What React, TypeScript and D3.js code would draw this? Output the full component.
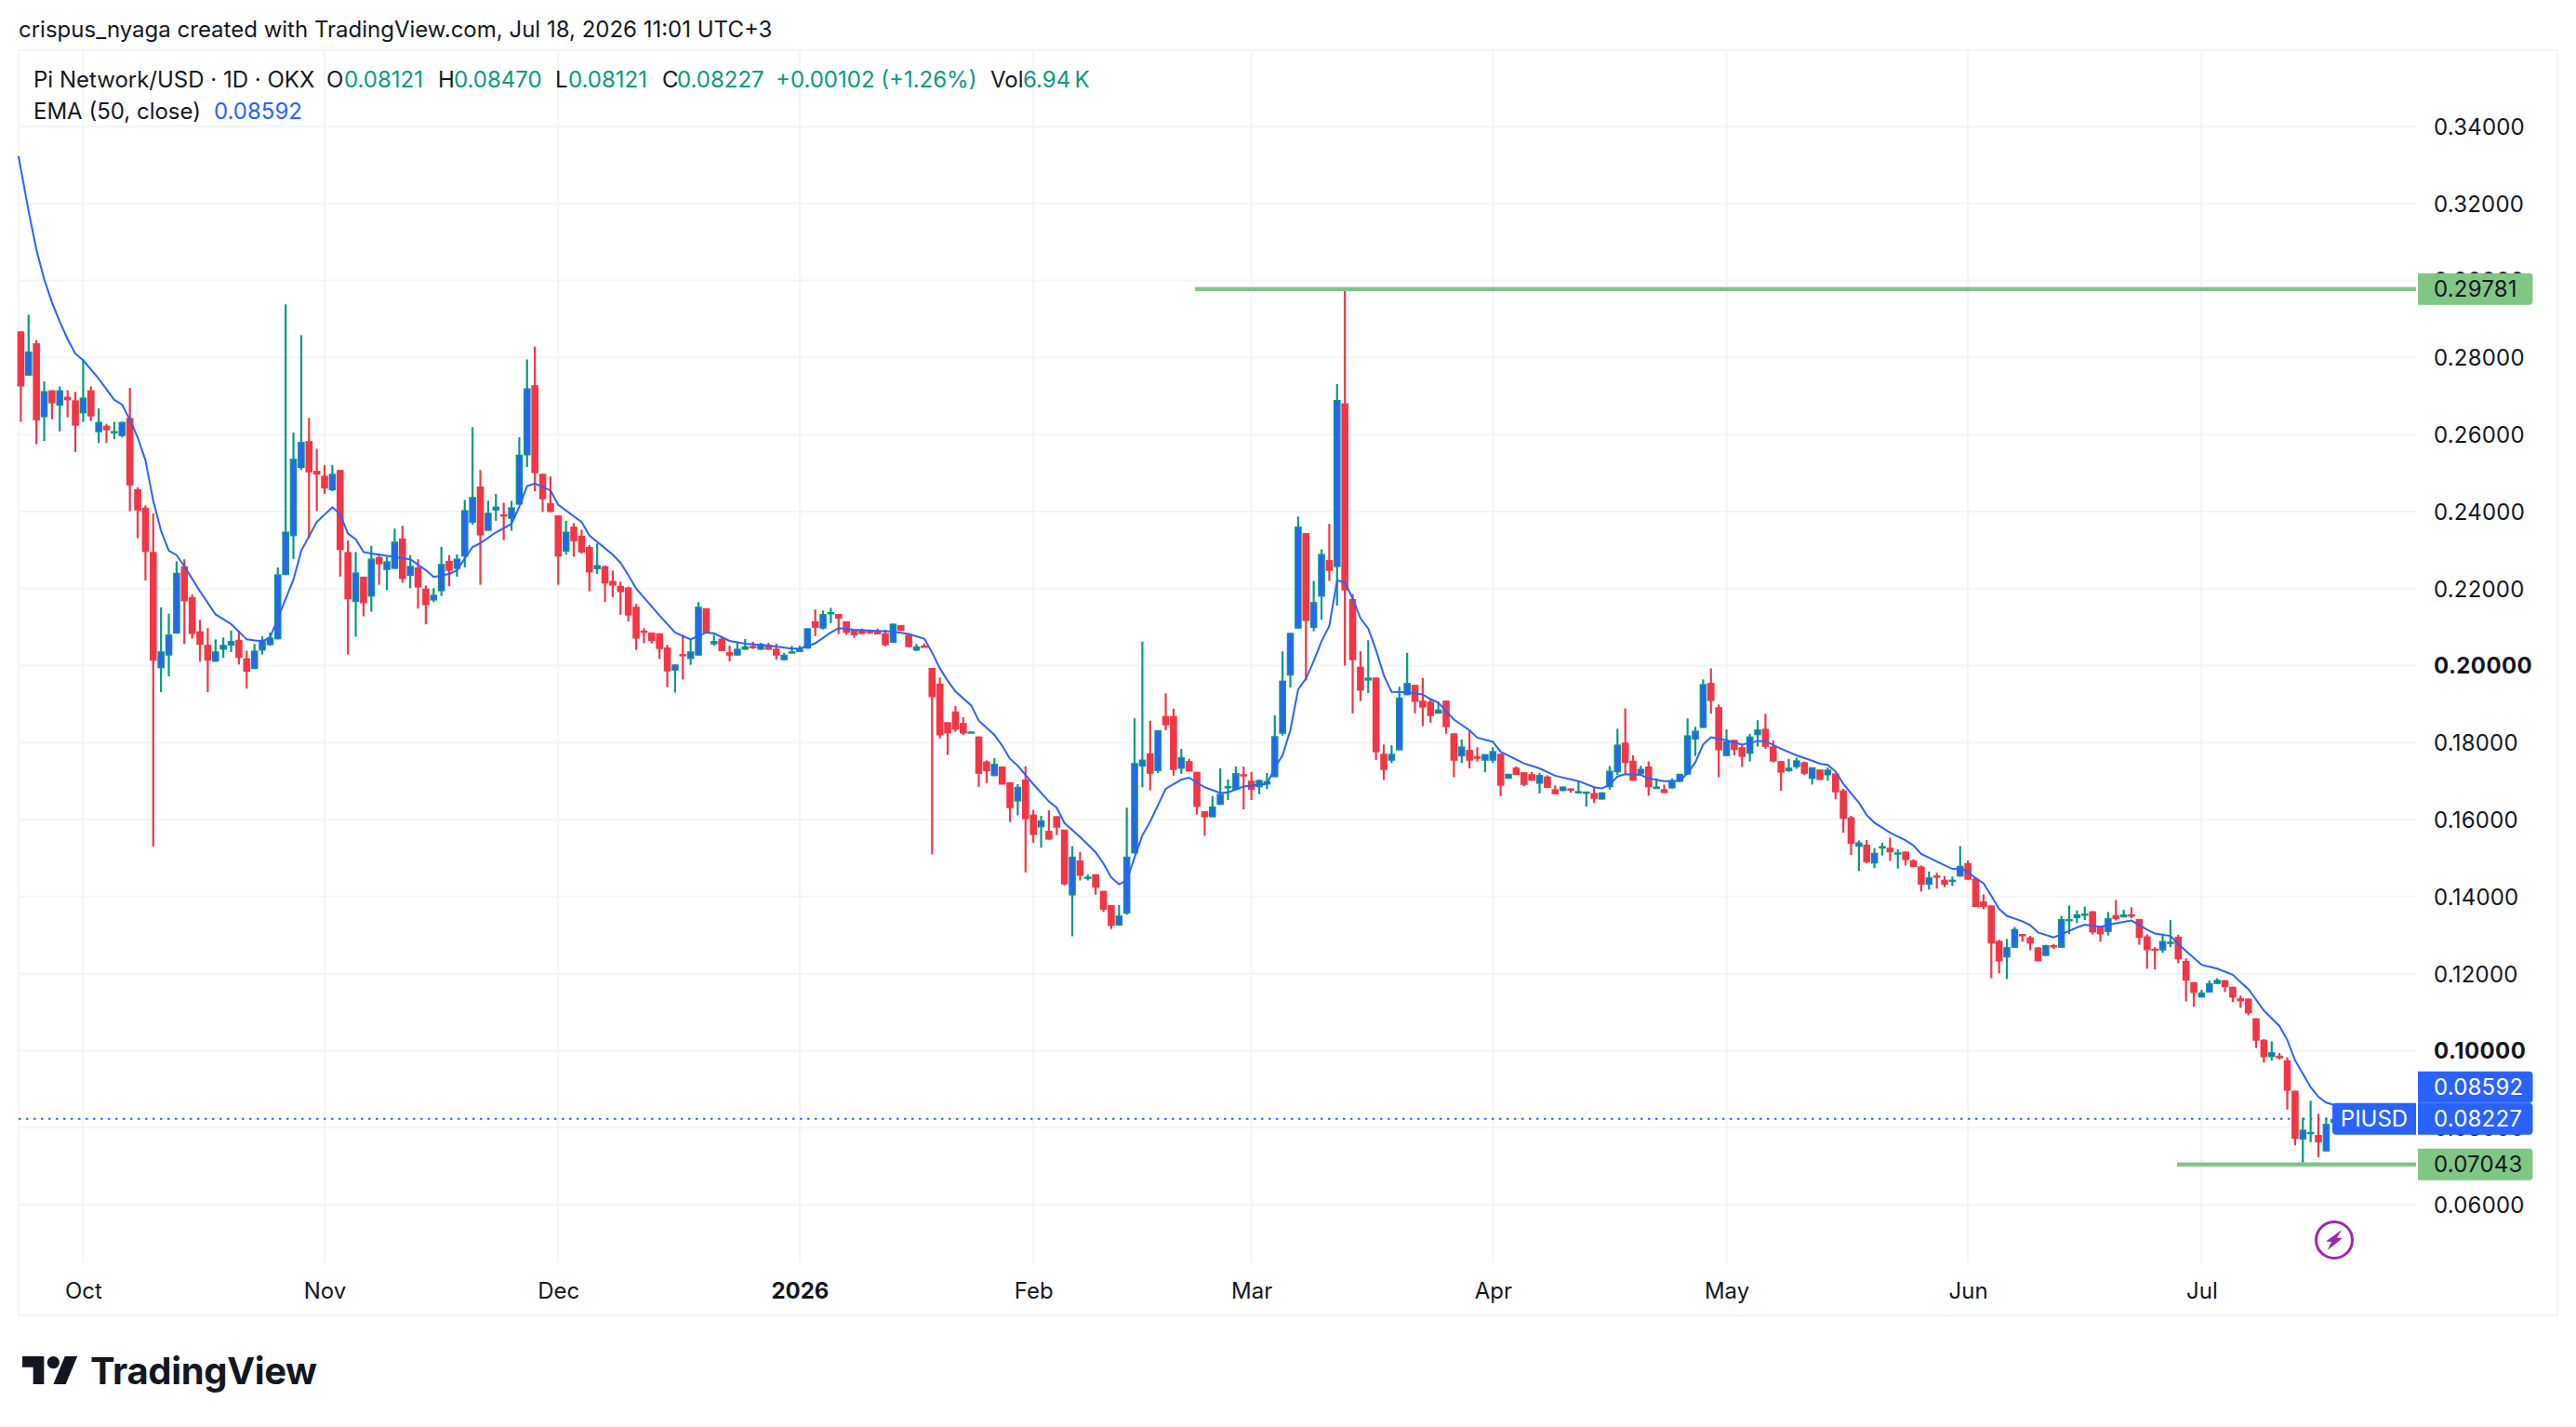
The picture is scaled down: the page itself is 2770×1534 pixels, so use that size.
import { useEffect, useRef } from "react";
import * as d3 from "d3";

const opens = [
  0.2868,0.2753,0.2837,0.2645,0.2715,0.2675,0.2698,0.2689,0.2655,0.2715,
  0.2606,0.2623,0.2606,0.2596,0.2643,0.2458,0.2410,0.2295,0.1993,0.2026,
  0.2083,0.2258,0.2178,0.2089,0.2054,0.2010,0.2041,0.2052,0.2067,0.2019,
  0.1991,0.2039,0.2053,0.2068,0.2235,0.2336,0.2513,0.2583,0.2506,0.2493,
  0.2455,0.2508,0.2295,0.2165,0.2231,0.2179,0.2282,0.2248,0.2251,0.2330,
  0.2233,0.2255,0.2200,0.2169,0.2193,0.2272,0.2251,0.2283,0.2371,0.2465,
  0.2350,0.2403,0.2393,0.2381,0.2418,0.2546,0.2728,0.2498,0.2422,0.2390,
  0.2296,0.2361,0.2337,0.2308,0.2250,0.2258,0.2220,0.2207,0.2203,0.2153,
  0.2091,0.2086,0.2084,0.2047,0.1987,0.2030,0.2017,0.2026,0.2149,0.2055,
  0.2070,0.2035,0.2026,0.2041,0.2051,0.2041,0.2054,0.2044,0.2014,0.2035,
  0.2035,0.2044,0.2115,0.2096,0.2134,0.2134,0.2115,0.2092,0.2092,0.2090,
  0.2090,0.2084,0.2059,0.2105,0.2080,0.2039,0.2052,0.1994,0.1953,0.1853,
  0.1881,0.1851,0.1827,0.1816,0.1751,0.1713,0.1738,0.1697,0.1647,0.1704,
  0.1613,0.1580,0.1571,0.1609,0.1574,0.1403,0.1494,0.1449,0.1458,0.1415,
  0.1378,0.1325,0.1356,0.1512,0.1738,0.1772,0.1726,0.1869,0.1869,0.1732,
  0.1752,0.1724,0.1622,0.1606,0.1638,0.1684,0.1677,0.1718,0.1701,0.1684,
  0.1691,0.1710,0.1823,0.1974,0.2096,0.2344,0.2098,0.2179,0.2274,0.2256,
  0.2681,0.2173,0.1997,0.1961,0.1969,0.1771,0.1753,0.1780,0.1923,0.1950,
  0.1909,0.1906,0.1875,0.1909,0.1824,0.1764,0.1781,0.1764,0.1753,0.1753,
  0.1771,0.1706,0.1735,0.1723,0.1718,0.1693,0.1712,0.1679,0.1674,0.1681,
  0.1671,0.1670,0.1669,0.1652,0.1684,0.1723,0.1800,0.1753,0.1718,0.1738,
  0.1683,0.1679,0.1681,0.1698,0.1717,0.1808,0.1838,0.1955,0.1892,0.1765,
  0.1807,0.1788,0.1771,0.1819,0.1836,0.1790,0.1752,0.1726,0.1736,0.1749,
  0.1706,0.1730,0.1715,0.1720,0.1676,0.1606,0.1530,0.1535,0.1486,0.1529,
  0.1527,0.1511,0.1517,0.1494,0.1478,0.1431,0.1455,0.1444,0.1442,0.1452,
  0.1487,0.1447,0.1388,0.1377,0.1285,0.1242,0.1267,0.1303,0.1294,0.1268,
  0.1246,0.1274,0.1267,0.1340,0.1344,0.1350,0.1362,0.1322,0.1308,0.1352,
  0.1346,0.1354,0.1342,0.1297,0.1265,0.1260,0.1281,0.1296,0.1233,0.1178,
  0.1138,0.1151,0.1173,0.1183,0.1166,0.1136,0.1135,0.1084,0.1028,0.0983,
  0.0987,0.0975,0.0896,0.0769,0.0785,0.0781,0.0738,0.08121,
];

const highs = [
  0.2868,0.2911,0.2845,0.2738,0.2715,0.2725,0.2715,0.2711,0.2795,0.2725,
  0.2668,0.2628,0.2633,0.2633,0.2721,0.2463,0.2416,0.2395,0.2151,0.2135,
  0.2271,0.2276,0.2185,0.2119,0.2097,0.2068,0.2073,0.2091,0.2091,0.2039,
  0.2056,0.2076,0.2086,0.2255,0.2938,0.2605,0.2858,0.2643,0.2563,0.2521,
  0.2521,0.2508,0.2325,0.2295,0.2231,0.2311,0.2291,0.2283,0.2356,0.2363,
  0.2287,0.2276,0.2208,0.2201,0.2308,0.2287,0.2289,0.2430,0.2619,0.2508,
  0.2428,0.2446,0.2423,0.2428,0.2593,0.2795,0.2828,0.2498,0.2491,0.2390,
  0.2376,0.2370,0.2353,0.2313,0.2317,0.2260,0.2247,0.2218,0.2205,0.2160,
  0.2097,0.2086,0.2084,0.2054,0.2003,0.2080,0.2068,0.2165,0.2149,0.2080,
  0.2074,0.2052,0.2062,0.2069,0.2062,0.2059,0.2059,0.2057,0.2033,0.2051,
  0.2052,0.2097,0.2146,0.2143,0.2150,0.2134,0.2115,0.2094,0.2096,0.2093,
  0.2096,0.2093,0.2109,0.2105,0.2083,0.2056,0.2057,0.1994,0.1969,0.1853,
  0.1895,0.1866,0.1829,0.1816,0.1754,0.1760,0.1738,0.1697,0.1692,0.1738,
  0.1625,0.1610,0.1624,0.1609,0.1574,0.1531,0.1516,0.1458,0.1458,0.1415,
  0.1378,0.1378,0.1631,0.1863,0.2062,0.1857,0.1832,0.1928,0.1888,0.1784,
  0.1758,0.1724,0.1622,0.1661,0.1733,0.1704,0.1738,0.1738,0.1724,0.1704,
  0.1721,0.1871,0.2037,0.2085,0.2387,0.2344,0.2220,0.2302,0.2368,0.2731,
  0.29781,0.2186,0.2037,0.2066,0.1969,0.1795,0.1793,0.1945,0.2033,0.1950,
  0.1968,0.1913,0.1906,0.1909,0.1824,0.1808,0.1830,0.1788,0.1770,0.1788,
  0.1771,0.1719,0.1738,0.1723,0.1724,0.1721,0.1715,0.1689,0.1686,0.1681,
  0.1701,0.1673,0.1684,0.1671,0.1739,0.1836,0.1889,0.1767,0.1740,0.1751,
  0.1707,0.1691,0.1707,0.1719,0.1863,0.1841,0.1964,0.1993,0.1899,0.1834,
  0.1807,0.1795,0.1823,0.1858,0.1875,0.1806,0.1752,0.1758,0.1761,0.1751,
  0.1736,0.1730,0.1735,0.1720,0.1680,0.1610,0.1546,0.1547,0.1526,0.1540,
  0.1553,0.1523,0.1517,0.1497,0.1481,0.1465,0.1462,0.1453,0.1452,0.1531,
  0.1494,0.1451,0.1406,0.1377,0.1288,0.1290,0.1321,0.1303,0.1298,0.1269,
  0.1275,0.1277,0.1350,0.1377,0.1364,0.1374,0.1362,0.1322,0.1360,0.1391,
  0.1366,0.1372,0.1342,0.1302,0.1269,0.1301,0.1339,0.1301,0.1240,0.1178,
  0.1158,0.1182,0.1188,0.1183,0.1166,0.1143,0.1136,0.1084,0.1030,0.1024,
  0.0994,0.0983,0.0896,0.0826,0.0870,0.0836,0.0826,0.0847,
];

const lows = [
  0.2633,0.2753,0.2575,0.2583,0.2640,0.2608,0.2645,0.2555,0.2633,0.2635,
  0.2578,0.2578,0.2588,0.2593,0.2401,0.2331,0.2221,0.1531,0.1931,0.1972,
  0.2083,0.2056,0.2070,0.2010,0.1931,0.2010,0.2020,0.2035,0.2003,0.1940,
  0.1991,0.2029,0.2051,0.2068,0.2235,0.2277,0.2508,0.2331,0.2401,0.2446,
  0.2453,0.2231,0.2029,0.2075,0.2128,0.2140,0.2210,0.2196,0.2251,0.2215,
  0.2201,0.2148,0.2107,0.2165,0.2181,0.2206,0.2231,0.2255,0.2366,0.2210,
  0.2350,0.2376,0.2326,0.2350,0.2418,0.2516,0.2453,0.2399,0.2399,0.2210,
  0.2288,0.2283,0.2291,0.2193,0.2238,0.2165,0.2178,0.2132,0.2115,0.2041,
  0.2058,0.2058,0.2017,0.1944,0.1930,0.1964,0.2002,0.2026,0.2084,0.2052,
  0.2038,0.2011,0.2026,0.2041,0.2043,0.2041,0.2041,0.2016,0.2014,0.2033,
  0.2035,0.2044,0.2076,0.2094,0.2110,0.2082,0.2080,0.2072,0.2082,0.2082,
  0.2081,0.2050,0.2059,0.2090,0.2048,0.2038,0.2048,0.1510,0.1811,0.1768,
  0.1828,0.1820,0.1827,0.1685,0.1695,0.1713,0.1691,0.1594,0.1611,0.1463,
  0.1540,0.1527,0.1548,0.1560,0.1429,0.1297,0.1442,0.1442,0.1405,0.1360,
  0.1316,0.1324,0.1353,0.1512,0.1684,0.1676,0.1721,0.1832,0.1714,0.1719,
  0.1725,0.1613,0.1558,0.1606,0.1638,0.1651,0.1677,0.1627,0.1651,0.1666,
  0.1679,0.1710,0.1818,0.1943,0.2096,0.1961,0.2089,0.2119,0.2220,0.2156,
  0.2000,0.1876,0.1908,0.1929,0.1755,0.1703,0.1747,0.1780,0.1923,0.1876,
  0.1843,0.1852,0.1875,0.1823,0.1710,0.1747,0.1733,0.1751,0.1723,0.1747,
  0.1661,0.1706,0.1716,0.1687,0.1701,0.1668,0.1682,0.1666,0.1674,0.1670,
  0.1671,0.1634,0.1643,0.1652,0.1678,0.1716,0.1716,0.1701,0.1718,0.1662,
  0.1683,0.1669,0.1681,0.1698,0.1717,0.1765,0.1838,0.1875,0.1710,0.1765,
  0.1767,0.1737,0.1751,0.1790,0.1784,0.1749,0.1675,0.1724,0.1732,0.1716,
  0.1691,0.1703,0.1701,0.1653,0.1566,0.1508,0.1467,0.1487,0.1474,0.1507,
  0.1493,0.1473,0.1481,0.1477,0.1413,0.1418,0.1421,0.1425,0.1428,0.1452,
  0.1443,0.1373,0.1367,0.1188,0.1201,0.1186,0.1267,0.1283,0.1261,0.1232,
  0.1245,0.1264,0.1267,0.1303,0.1331,0.1339,0.1302,0.1283,0.1299,0.1338,
  0.1346,0.1344,0.1275,0.1213,0.1211,0.1254,0.1269,0.1227,0.1128,0.1114,
  0.1138,0.1151,0.1173,0.1152,0.1126,0.1111,0.1092,0.1007,0.0969,0.0974,
  0.0977,0.0847,0.0754,0.07043,0.0762,0.0723,0.0738,0.08121,
];

const closes = [
  0.2725,0.2816,0.2637,0.2713,0.2681,0.2715,0.2689,0.2623,0.2696,0.2647,
  0.2633,0.2611,0.2609,0.2633,0.2468,0.2403,0.2295,0.2013,0.2037,0.2081,
  0.2241,0.2167,0.2082,0.2054,0.2013,0.2037,0.2054,0.2064,0.2020,0.1984,
  0.2039,0.2067,0.2073,0.2237,0.2348,0.2537,0.2581,0.2502,0.2496,0.2460,
  0.2498,0.2300,0.2172,0.2242,0.2162,0.2278,0.2263,0.2271,0.2322,0.2225,
  0.2259,0.2203,0.2157,0.2184,0.2264,0.2246,0.2278,0.2404,0.2438,0.2338,
  0.2397,0.2413,0.2390,0.2411,0.2548,0.2720,0.2500,0.2432,0.2399,0.2283,
  0.2348,0.2323,0.2294,0.2242,0.2261,0.2213,0.2208,0.2191,0.2130,0.2070,
  0.2087,0.2064,0.2043,0.1985,0.2003,0.2027,0.2037,0.2153,0.2084,0.2064,
  0.2038,0.2026,0.2044,0.2050,0.2047,0.2057,0.2041,0.2026,0.2028,0.2037,
  0.2044,0.2097,0.2098,0.2134,0.2139,0.2122,0.2085,0.2079,0.2082,0.2084,
  0.2081,0.2053,0.2109,0.2090,0.2048,0.2050,0.2048,0.1918,0.1819,0.1824,
  0.1834,0.1824,0.1829,0.1719,0.1726,0.1745,0.1691,0.1630,0.1685,0.1601,
  0.1560,0.1598,0.1548,0.1579,0.1432,0.1504,0.1454,0.1452,0.1423,0.1366,
  0.1324,0.1351,0.1504,0.1747,0.1756,0.1719,0.1832,0.1845,0.1729,0.1762,
  0.1725,0.1633,0.1606,0.1634,0.1667,0.1687,0.1721,0.1716,0.1677,0.1703,
  0.1700,0.1817,0.1961,0.2085,0.2361,0.2116,0.2165,0.2290,0.2246,0.2690,
  0.2195,0.2014,0.1935,0.1969,0.1775,0.1729,0.1771,0.1917,0.1955,0.1906,
  0.1891,0.1869,0.1886,0.1840,0.1753,0.1790,0.1753,0.1759,0.1770,0.1778,
  0.1688,0.1719,0.1716,0.1690,0.1701,0.1716,0.1682,0.1666,0.1686,0.1678,
  0.1674,0.1673,0.1654,0.1671,0.1727,0.1795,0.1747,0.1701,0.1732,0.1684,
  0.1686,0.1669,0.1699,0.1719,0.1819,0.1831,0.1952,0.1908,0.1780,0.1804,
  0.1781,0.1763,0.1816,0.1834,0.1789,0.1751,0.1722,0.1735,0.1754,0.1719,
  0.1736,0.1703,0.1730,0.1671,0.1602,0.1537,0.1541,0.1489,0.1514,0.1531,
  0.1515,0.1515,0.1495,0.1477,0.1431,0.1450,0.1453,0.1431,0.1444,0.1480,
  0.1444,0.1373,0.1373,0.1278,0.1232,0.1269,0.1316,0.1301,0.1278,0.1232,
  0.1274,0.1272,0.1342,0.1342,0.1354,0.1356,0.1307,0.1302,0.1344,0.1342,
  0.1354,0.1348,0.1293,0.1261,0.1263,0.1285,0.1283,0.1237,0.1182,0.1150,
  0.1151,0.1175,0.1184,0.1165,0.1138,0.1128,0.1097,0.1026,0.0983,0.0996,
  0.0980,0.0896,0.0771,0.0795,0.0789,0.0762,0.0810,0.08227,
];

// EMA at its visible bends: [bar index, value]
const emaPoints: [number, number][] = [
  [-0.3,0.3323],[0,0.3290],[1,0.3180],[2,0.3080],[3,0.3003],[4,0.2943],[5,0.2893],[6,0.2848],[7,0.2810],[8,0.2793],[10,0.2745],
  [12,0.2690],[13,0.2678],[14,0.2638],[15,0.2593],[16,0.2533],[17,0.2428],[18,0.2350],[19,0.2298],[20,0.2287],[21,0.2258],
  [23,0.2193],[25,0.2133],[27,0.2108],[29,0.2068],[31,0.2063],[32,0.2073],[33,0.2123],[35,0.2223],[36,0.2298],[38,0.2373],
  [40,0.2411],[41,0.2393],[42,0.2343],[43,0.2328],[44,0.2295],[45,0.2291],[47,0.2285],[50,0.2276],[52,0.2248],[53,0.2230],
  [55,0.2238],[56,0.2248],[58,0.2308],[59,0.2318],[61,0.2346],[63,0.2368],[64,0.2413],[65,0.2466],[66,0.2473],[68,0.2455],
  [69,0.2418],[72,0.2373],[73,0.2338],[76,0.2288],[77,0.2267],[78,0.2235],[79,0.2200],[82,0.2130],[84,0.2086],[86,0.2068],
  [88,0.2086],[89,0.2084],[91,0.2064],[93,0.2057],[96,0.2052],[99,0.2044],[100,0.2044],[102,0.2058],[104,0.2086],[105,0.2097],
  [107,0.2093],[110,0.2090],[112,0.2088],[114,0.2082],[116,0.2070],[117,0.2034],[118,0.1993],[119,0.1961],[120,0.1933],[122,0.1897],
  [123,0.1857],[125,0.1820],[126,0.1792],[127,0.1758],[128,0.1740],[130,0.1692],[132,0.1647],[133,0.1631],[134,0.1591],[136,0.1555],
  [138,0.1515],[139,0.1486],[140,0.1450],[141,0.1432],[142,0.1442],[143,0.1502],[144,0.1559],[145,0.1595],[147,0.1680],[149,0.1704],
  [150,0.1709],[152,0.1684],[154,0.1669],[155,0.1671],[157,0.1686],[160,0.1693],[161,0.1735],[162,0.1767],[163,0.1832],[164,0.1938],
  [165,0.1966],[166,0.2012],[167,0.2063],[168,0.2103],[169,0.2221],[170,0.2216],[171,0.2174],[172,0.2123],[173,0.2096],[174,0.2040],
  [175,0.1975],[176,0.1932],[178,0.1931],[180,0.1925],[181,0.1913],[182,0.1904],[184,0.1860],[186,0.1832],[187,0.1813],[189,0.1802],
  [190,0.1776],[193,0.1746],[195,0.1733],[197,0.1714],[200,0.1700],[202,0.1684],[203,0.1681],[204,0.1691],[205,0.1712],[206,0.1718],
  [208,0.1716],[209,0.1707],[211,0.1700],[213,0.1701],[214,0.1721],[215,0.1749],[216,0.1795],[217,0.1814],[219,0.1806],[221,0.1795],
  [223,0.1804],[224,0.1804],[226,0.1784],[228,0.1767],[230,0.1753],[231,0.1745],[232,0.1742],[233,0.1725],[234,0.1693],[235,0.1668],
  [236,0.1644],[237,0.1612],[238,0.1592],[240,0.1566],[242,0.1546],[243,0.1533],[244,0.1511],[246,0.1491],[248,0.1472],[249,0.1473],
  [250,0.1465],[251,0.1447],[252,0.1435],[253,0.1402],[254,0.1368],[255,0.1350],[257,0.1336],[258,0.1326],[259,0.1307],[261,0.1294],
  [262,0.1302],[264,0.1320],[265,0.1327],[267,0.1322],[269,0.1331],[271,0.1338],[273,0.1314],[274,0.1304],[276,0.1298],[277,0.1277],
  [279,0.1241],[280,0.1223],[282,0.1213],[284,0.1197],[285,0.1178],[286,0.1160],[288,0.1104],[290,0.1064],[291,0.1028],[292,0.0975],
  [293,0.0940],[294,0.0905],[295,0.0880],[296,0.0865],[297,0.08592],
];

const priceTicks = [0.06, 0.08, 0.1, 0.12, 0.14, 0.16, 0.18, 0.2, 0.22, 0.24, 0.26, 0.28, 0.3, 0.32, 0.34];
const boldPrices = [0.1, 0.2];
const monthBars = [8, 39, 69, 100, 130, 158, 189, 219, 250, 280];
const monthLabels = ["Oct", "Nov", "Dec", "2026", "Feb", "Mar", "Apr", "May", "Jun", "Jul"];

const lastPrice = 0.08227;
const emaLast = 0.08592;
const highLevel = 0.29781;
const lowLevel = 0.07043;

const UP = "#089981";
const UP_FILL = "#2962ff";
const DOWN = "#f23645";
const BLUE = "#2962ff";
const GREEN_LINE = "#81c784";
const GRID = "#f3f4f6";
const INK = "#131722";
const FONT = "Inter, 'Noto Sans', sans-serif";

const W = 2770;
const H = 1534;
const pane = { left: 20, right: 2598, top: 54, bottom: 1357 };

export default function App() {
  const svgRef = useRef<SVGSVGElement>(null);

  useEffect(() => {
    if (!svgRef.current) return;
    const svg = d3.select(svgRef.current);
    svg.selectAll("*").remove();

    const x = d3.scaleLinear().domain([0, 297]).range([22.4, 22.4 + 297 * 8.375]);
    const y = d3.scaleLinear().domain([0.06, 0.34]).range([1295, 136]);

    svg.append("rect").attr("width", W).attr("height", H).attr("fill", "#fff");

    // Outer frame
    svg
      .append("rect")
      .attr("x", pane.left)
      .attr("y", pane.top)
      .attr("width", 2750 - pane.left)
      .attr("height", 1414 - pane.top)
      .attr("fill", "none")
      .attr("stroke", GRID)
      .attr("stroke-width", 2);

    // Grid
    const grid = svg.append("g").attr("stroke", GRID).attr("stroke-width", 2);
    grid
      .selectAll("line.h")
      .data(priceTicks)
      .join("line")
      .attr("class", "h")
      .attr("x1", pane.left)
      .attr("x2", pane.right)
      .attr("y1", (d) => y(d))
      .attr("y2", (d) => y(d));
    grid
      .selectAll("line.v")
      .data(monthBars)
      .join("line")
      .attr("class", "v")
      .attr("x1", (d) => x(d))
      .attr("x2", (d) => x(d))
      .attr("y1", pane.top)
      .attr("y2", pane.bottom);

    // Price axis
    const yAxis = svg
      .append("g")
      .attr("transform", `translate(${pane.right},0)`)
      .call(
        d3
          .axisRight(y)
          .tickValues(priceTicks)
          .tickSize(0)
          .tickPadding(19)
          .tickFormat((d) => (d as number).toFixed(5))
      );
    yAxis.select(".domain").remove();
    yAxis
      .selectAll<SVGTextElement, number>("text")
      .attr("dy", "0.35em")
      .style("font-family", FONT)
      .style("font-size", "24px")
      .style("letter-spacing", (d) => (boldPrices.includes(d) ? "0.4px" : "0.2px"))
      .style("font-weight", (d) => (boldPrices.includes(d) ? 700 : 400))
      .style("fill", INK);

    // Time axis
    const xAxis = svg
      .append("g")
      .attr("transform", `translate(0,${pane.bottom})`)
      .call(
        d3
          .axisBottom(x)
          .tickValues(monthBars)
          .tickSize(0)
          .tickPadding(0)
          .tickFormat((_, i) => monthLabels[i])
      );
    xAxis.select(".domain").remove();
    xAxis
      .selectAll<SVGTextElement, number>("text")
      .attr("y", 39)
      .attr("dy", 0)
      .style("font-family", FONT)
      .style("font-size", "24px")
      .style("font-weight", (d) => (d === 100 ? 700 : 400))
      .style("fill", INK);

    // Last price dotted line
    svg
      .append("line")
      .attr("x1", pane.left)
      .attr("x2", 2508)
      .attr("y1", y(lastPrice))
      .attr("y2", y(lastPrice))
      .attr("stroke", BLUE)
      .attr("stroke-width", 2)
      .attr("stroke-dasharray", "2.5 5.5");

    // Candles
    const bars = d3.range(opens.length);
    const candles = svg.append("g");
    const isUp = (i: number) => closes[i] >= opens[i];

    candles
      .selectAll("line.wick")
      .data(bars)
      .join("line")
      .attr("class", "wick")
      .attr("x1", (i) => x(i))
      .attr("x2", (i) => x(i))
      .attr("y1", (i) => y(highs[i]))
      .attr("y2", (i) => y(lows[i]))
      .attr("stroke", (i) => (isUp(i) ? UP : DOWN))
      .attr("stroke-width", 2.2);

    candles
      .selectAll("rect.body")
      .data(bars)
      .join("rect")
      .attr("class", "body")
      .attr("x", (i) => x(i) - 3.8)
      .attr("width", 7.6)
      .attr("y", (i) => y(Math.max(opens[i], closes[i])))
      .attr("height", (i) => Math.max(2.5, Math.abs(y(opens[i]) - y(closes[i]))))
      .attr("fill", (i) => (isUp(i) ? UP : DOWN));

    // Up candles: blue fill inside the teal border
    candles
      .selectAll("rect.fill")
      .data(bars.filter((i) => isUp(i) && Math.abs(y(opens[i]) - y(closes[i])) > 3.5))
      .join("rect")
      .attr("class", "fill")
      .attr("x", (i) => x(i) - 2.4)
      .attr("width", 4.8)
      .attr("y", (i) => y(closes[i]) + 1.5)
      .attr("height", (i) => Math.abs(y(opens[i]) - y(closes[i])) - 3)
      .attr("fill", UP_FILL);

    // EMA
    const emaLine = d3
      .line<[number, number]>()
      .x((d) => x(d[0]))
      .y((d) => y(d[1]));
    svg
      .append("path")
      .attr("d", emaLine(emaPoints))
      .attr("fill", "none")
      .attr("stroke", BLUE)
      .attr("stroke-width", 2);

    // High / low levels
    const levels = svg.append("g").attr("stroke", GREEN_LINE).attr("stroke-width", 4.5);
    levels
      .append("line")
      .attr("x1", 1285)
      .attr("x2", pane.right)
      .attr("y1", y(highLevel))
      .attr("y2", y(highLevel));
    levels
      .append("line")
      .attr("x1", 2341)
      .attr("x2", pane.right)
      .attr("y1", y(lowLevel))
      .attr("y2", y(lowLevel));

    // Axis tags, flat on the left and rounded on the right
    const tagPath = (top: number, h: number) =>
      `M2600,${top}H2719.5a4,4 0 0 1 4,4V${top + h - 4}a4,4 0 0 1 -4,4H2600Z`;
    const tag = (centerY: number, fill: string, color: string, label: string) => {
      svg.append("path").attr("d", tagPath(centerY - 17, 34)).attr("fill", fill);
      svg
        .append("text")
        .attr("x", 2617)
        .attr("y", centerY)
        .attr("dy", "0.35em")
        .attr("fill", color)
        .style("font-family", FONT)
        .style("font-size", "24px")
        .style("letter-spacing", "0.2px")
        .text(label);
    };
    tag(y(highLevel), GREEN_LINE, INK, highLevel.toFixed(5));
    tag(y(lowLevel), GREEN_LINE, INK, lowLevel.toFixed(5));
    tag(y(emaLast) - 19, BLUE, "#fff", emaLast.toFixed(5));
    tag(y(lastPrice), BLUE, "#fff", lastPrice.toFixed(5));

    // Symbol tag next to the last price
    const ly = y(lastPrice);
    svg
      .append("path")
      .attr("d", `M2598,${ly - 17}H2512a4,4 0 0 0 -4,4V${ly + 13}a4,4 0 0 0 4,4H2598Z`)
      .attr("fill", BLUE);
    svg
      .append("text")
      .attr("x", 2553)
      .attr("y", ly)
      .attr("dy", "0.35em")
      .attr("text-anchor", "middle")
      .attr("fill", "#fff")
      .style("font-family", FONT)
      .style("font-size", "24px")
      .text("PIUSD");

    // Lightning badge
    const badge = svg.append("g").attr("transform", `translate(2510,1333)`);
    badge
      .append("circle")
      .attr("r", 19.5)
      .attr("fill", "#fff")
      .attr("stroke", "#9c27b0")
      .attr("stroke-width", 3);
    badge
      .append("path")
      .attr("d", "M8,-11 L-9,1.5 L-3,2 L-7.5,11 L9,-2 L3,-2.5 Z")
      .attr("fill", "#9c27b0");

    // Header and legend text
    const label = (tx: number, ty: number, text: string, fill = INK, size = 24) =>
      svg
        .append("text")
        .attr("x", tx)
        .attr("y", ty)
        .attr("fill", fill)
        .style("font-family", FONT)
        .style("font-size", `${size}px`)
        .text(text);

    label(20, 40, "crispus_nyaga created with TradingView.com, Jul 18, 2026 11:01 UTC+3");
    label(36, 94, "Pi Network/USD · 1D · OKX");
    label(351, 94, "O");
    label(370, 94, "0.08121", UP);
    label(471, 94, "H");
    label(488, 94, "0.08470", UP);
    label(597, 94, "L");
    label(611, 94, "0.08121", UP);
    label(712, 94, "C");
    label(728, 94, "0.08227", UP);
    label(834, 94, "+0.00102 (+1.26%)", UP);
    label(1065, 94, "Vol");
    label(1100, 94, "6.94\u202fK", UP);
    label(36, 128, "EMA (50, close)");
    label(230, 128, "0.08592", BLUE);

    // TradingView mark and wordmark
    const logo = svg.append("g").attr("transform", "translate(24,1451.3) scale(1.667)").attr("fill", INK);
    logo.append("path").attr("d", "M14 22H7V11H0V4h14v18zM28 22h-8l7.5-18h8L28 22z");
    logo.append("circle").attr("cx", 20).attr("cy", 8).attr("r", 4);
    svg
      .append("text")
      .attr("x", 97)
      .attr("y", 1488)
      .attr("fill", INK)
      .style("font-family", FONT)
      .style("font-size", "40px")
      .style("font-weight", 700)
      .style("letter-spacing", "-0.35px")
      .text("TradingView");
  }, []);

  return (
    <svg
      ref={svgRef}
      width={W}
      height={H}
      style={{ position: "absolute", left: 0, top: 0, display: "block" }}
    />
  );
}
